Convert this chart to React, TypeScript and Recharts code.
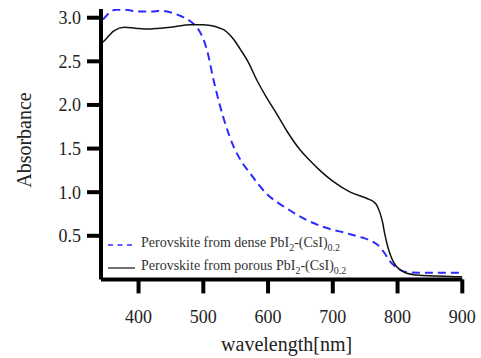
import React from 'react';
import { LineChart, Line, XAxis, YAxis, Legend, Label } from 'recharts';

const denseWl = [345, 350, 357, 365, 380, 400, 420, 434, 450, 465, 480, 490, 496, 506, 516, 524, 532, 547, 560, 573, 585, 598, 615, 634, 660, 686, 721, 745, 760, 773, 780, 788, 796, 804, 819, 840, 900];
const denseAbs = [2.98, 3.02, 3.07, 3.09, 3.09, 3.07, 3.07, 3.08, 3.06, 3.02, 2.96, 2.89, 2.82, 2.62, 2.28, 2.04, 1.83, 1.52, 1.34, 1.21, 1.09, 0.98, 0.88, 0.79, 0.68, 0.60, 0.53, 0.48, 0.44, 0.37, 0.30, 0.21, 0.15, 0.11, 0.08, 0.077, 0.077];

const porousWl = [345, 350, 362, 378, 395, 414, 432, 450, 480, 500, 511, 522, 532, 540, 547, 557, 568, 583, 598, 614, 630, 650, 665, 680, 701, 727, 752, 763, 768, 773, 777, 780, 784, 788, 793, 798, 806, 814, 830, 855, 896, 900];
const porousAbs = [2.72, 2.76, 2.85, 2.89, 2.88, 2.87, 2.88, 2.89, 2.92, 2.92, 2.91, 2.89, 2.86, 2.81, 2.75, 2.64, 2.51, 2.28, 2.08, 1.89, 1.69, 1.48, 1.36, 1.25, 1.12, 1.0, 0.93, 0.89, 0.85, 0.76, 0.65, 0.53, 0.40, 0.30, 0.21, 0.15, 0.10, 0.07, 0.05, 0.04, 0.03, 0.03];

const xTicks = [400, 500, 600, 700, 800, 900];
const yTicks = [0.5, 1.0, 1.5, 2.0, 2.5, 3.0];

const denseData = denseWl.map((x, i) => ({ x, y: denseAbs[i] }));
const porousData = porousWl.map((x, i) => ({ x, y: porousAbs[i] }));

const FONT = '"Liberation Serif", "Times New Roman", serif';
const BLUE = '#2a2aff';

const renderLegend = () => (
  <div style={{ fontFamily: FONT, fontSize: 14, color: '#333', lineHeight: '23px' }}>
    <div style={{ display: 'flex', alignItems: 'center', height: 23 }}>
      <svg width={34} height={10} style={{ marginRight: 2 }}>
        <line x1={3} y1={5} x2={30} y2={5} stroke={BLUE} strokeWidth={1.5} strokeDasharray="5 4.5" />
      </svg>
      <span>Perovskite from dense PbI<sub style={{ fontSize: 10 }}>2</sub>-(CsI)<sub style={{ fontSize: 10 }}>0.2</sub></span>
    </div>
    <div style={{ display: 'flex', alignItems: 'center', height: 23 }}>
      <svg width={34} height={10} style={{ marginRight: 2 }}>
        <line x1={3} y1={5} x2={30} y2={5} stroke="#222" strokeWidth={1.3} />
      </svg>
      <span>Perovskite from porous PbI<sub style={{ fontSize: 10 }}>2</sub>-(CsI)<sub style={{ fontSize: 10 }}>0.2</sub></span>
    </div>
  </div>
);

export default function App() {
  return (
    <div style={{ position: 'absolute', left: 0, top: 0, width: 481, height: 358, background: '#fff' }}>
      <LineChart width={481} height={358} margin={{ top: 9, right: 18.7, bottom: 28, left: 0 }}>
        <XAxis
          type="number"
          dataKey="x"
          domain={[342, 900]}
          ticks={xTicks}
          allowDataOverflow
          axisLine={{ stroke: '#000', strokeWidth: 4 }}
          tickLine={{ stroke: '#000', strokeWidth: 4 }}
          tickSize={14}
          tickMargin={17}
          height={50.6}
          tick={{ fontFamily: FONT, fontSize: 18, fill: '#222' }}
        >
          <Label value="wavelength[nm]" position="bottom" offset={7} dx={5} style={{ fontFamily: FONT, fontSize: 20, fill: '#222' }} />
        </XAxis>
        <YAxis
          type="number"
          domain={[0, 3.1]}
          ticks={yTicks}
          allowDataOverflow
          width={101}
          axisLine={{ stroke: '#000', strokeWidth: 4 }}
          tickLine={{ stroke: '#000', strokeWidth: 4 }}
          tickSize={14}
          tickMargin={6}
          tickFormatter={(v: number) => v.toFixed(1)}
          tick={{ fontFamily: FONT, fontSize: 18, fill: '#222' }}
        >
          <Label
            content={() => (
              <text x={24} y={140} transform="rotate(-90 24 140)" textAnchor="middle" dominantBaseline="central" style={{ fontFamily: FONT, fontSize: 20, fill: '#222' }}>
                Absorbance
              </text>
            )}
          />
        </YAxis>
        <Legend
          content={renderLegend}
          layout="vertical"
          align="center"
          verticalAlign="middle"
          wrapperStyle={{ position: 'absolute', left: 105, top: 233, width: 320 }}
        />
        <Line data={denseData} dataKey="y" type="monotone" stroke={BLUE} strokeWidth={2} strokeDasharray="8 5" dot={false} isAnimationActive={false} />
        <Line data={porousData} dataKey="y" type="monotone" stroke="#111" strokeWidth={1.5} dot={false} isAnimationActive={false} />
      </LineChart>
    </div>
  );
}
